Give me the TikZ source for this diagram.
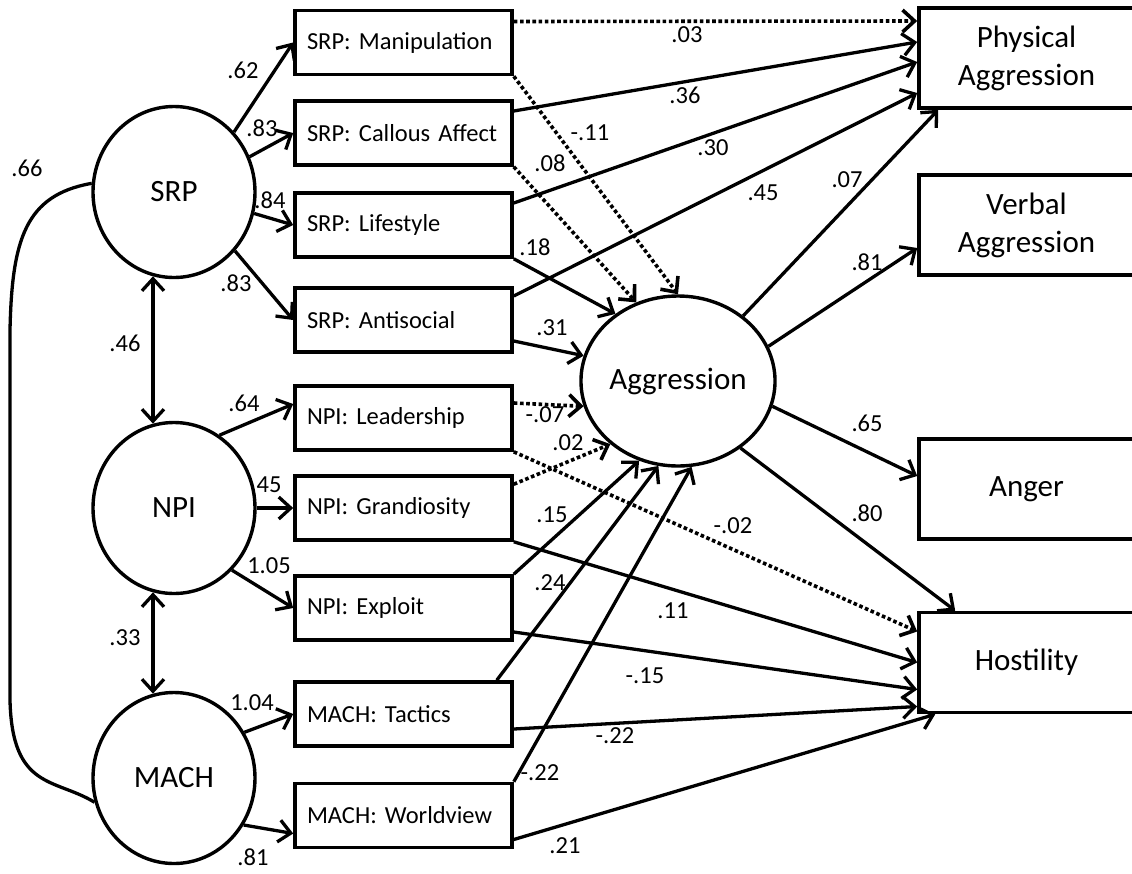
\documentclass[tikz,border=0pt]{standalone}
\usepackage{fontspec}
\setmainfont{Carlito}
\usetikzlibrary{arrows.meta,shapes.geometric}
\newcommand\bigfont{\fontsize{31}{38}\selectfont}
\newcommand\midfont{\fontsize{24.5}{29}\selectfont}

\begin{document}
\begin{tikzpicture}[x=1pt,y=-1pt,>={Straight Barb[length=12pt,width=22pt]},
  latent/.style={draw,ellipse,line width=3.4pt,minimum width=162pt,minimum height=171pt,inner sep=0pt,font=\bigfont},
  facet/.style={draw,line width=3.6pt,minimum width=217pt,minimum height=64pt,text width=193pt,inner xsep=12pt,align=left,font=\midfont},
  outcome/.style={draw,line width=3.6pt,minimum width=215pt,minimum height=100pt,align=center,font=\bigfont},
  effect/.style={line width=3.3pt,->},
  weak/.style={effect,line width=3.6pt,dash pattern=on 3.6pt off 2.6pt},
  coef/.style={font=\midfont,inner sep=1pt}]
\useasboundingbox (0,0) rectangle (1132,873);
\clip (0,0) rectangle (1132,873);

% latent variables
\node[latent] (srp) at (174,192) {SRP};
\node[latent] (npi) at (174,508) {NPI};
\node[latent] (mach) at (174,778) {MACH};
\node[latent,minimum width=160pt,minimum height=170pt] (aggr) at (678,381) {Aggression};

% facets
\node[facet] (man) at (403.5,42.5) {SRP: Manipulation};
\node[facet] (cal) at (403.5,133) {SRP: Callous Affect};
\node[facet] (life) at (403.5,225) {SRP: Lifestyle};
\node[facet] (anti) at (403.5,320) {SRP: Antisocial};
\node[facet] (lead) at (403.5,418) {NPI: Leadership};
\node[facet] (gran) at (403.5,508) {NPI: Grandiosity};
\node[facet] (expl) at (403.5,608) {NPI: Exploit};
\node[facet] (tact) at (403.5,714) {MACH: Tactics};
\node[facet] (world) at (403.5,815.5) {MACH: Worldview};

% outcomes
\node[outcome] (phys) at (1026.5,58) {Physical\\Aggression};
\node[outcome] (verb) at (1026.5,225) {Verbal\\Aggression};
\node[outcome] (anger) at (1026.5,489) {Anger};
\node[outcome] (host) at (1026.5,662.5) {Hostility};

% loadings and correlations
\draw[effect] (srp.45) -- (man.west);
\draw[effect] (srp.25) -- (cal.west);
\draw[effect] (srp.-15) -- (life.west);
\draw[effect] (srp.-44) -- (anti.west);
\draw[effect] (npi.58) -- ([yshift=14pt]lead.west);
\draw[effect] (npi.east) -- (gran.west);
\draw[effect] (npi.-47) -- (expl.west);
\draw[effect] (mach.33) -- (tact.west);
\draw[effect] (mach.-34) -- ([yshift=-18pt]world.west);
\draw[effect,<->] (srp.256) -- (npi.104);
\draw[effect,<->] (npi.256) -- (mach.104);
\draw[line width=3.3pt] (srp.174) .. controls (25,195) and (12,240) .. (10,330) -- (10,700) .. controls (12,790) and (55,778) .. (mach.197);

% paths to aggression
\draw[weak] (man.south east) -- (aggr.north);
\draw[weak] (cal.south east) -- (aggr.118);
\draw[effect] (life.south east) -- (aggr.133);
\draw[effect] ([yshift=-21pt]anti.east) -- (aggr.165);
\draw[weak] ([yshift=15pt]lead.east) -- (aggr.195);
\draw[weak] ([yshift=-10pt]gran.north east) -- (aggr.223);
\draw[effect] (expl.north east) -- (aggr.244);
\draw[effect] ([xshift=-17pt]tact.north east) -- (aggr.257);
\draw[effect] (world.north east) -- (aggr.279);

% paths from aggression
\draw[effect] (aggr.45) -- ([xshift=21pt]phys.south west);
\draw[effect] (aggr.21) -- ([yshift=-23pt]verb.west);
\draw[effect] (aggr.-15) -- ([yshift=13pt]anger.west);
\draw[effect] (aggr.-47) -- ([xshift=38pt]host.north west);

% direct paths
\draw[weak] ([yshift=21pt]man.east) -- ([yshift=37pt]phys.west);
\draw[effect] ([yshift=22pt]cal.east) -- ([yshift=16pt]phys.west);
\draw[effect] ([yshift=22pt]life.east) -- ([yshift=-4pt]phys.west);
\draw[effect] ([yshift=24pt]anti.east) -- ([yshift=-35pt]phys.west);
\draw[weak] (lead.south east) -- ([yshift=31pt]host.west);
\draw[effect] (gran.south east) -- (host.west);
\draw[effect] ([yshift=-24pt]expl.east) -- ([yshift=-27pt]host.west);
\draw[effect] ([yshift=-15pt]tact.east) -- ([yshift=-44pt]host.west);
\draw[effect] ([yshift=-24pt]world.east) -- ([xshift=18pt]host.south west);

% coefficients
\foreach \x/\y/\t [count=\i] in {27/168/.66, 243/70/.62, 262/128/.83, 270/200/.84, 236/283/.83,
  125/343/.46, 244/403/.64, 266/485/.45, 269/566/1.05, 125/638/.33, 252/703/1.04, 253/857/.81,
  687/35/.03, 685/95/.36, 590/133/-.11, 713/148/.30, 550/163/.08, 763/193/.45, 847/180/.07,
  535/247/.18, 867/262/.81, 552/328/.31, 545/415/-.07, 867/423/.65, 568/443/.02, 552/515/.15,
  733/526/-.02, 867/513/.80, 550/583/.24, 673/611/.11, 645/676/-.15, 615/736/-.22, 540/773/-.22,
  565/846/.21}
  \node[coef] (c\i) at (\x,\y) {\t};
\end{tikzpicture}
\end{document}
